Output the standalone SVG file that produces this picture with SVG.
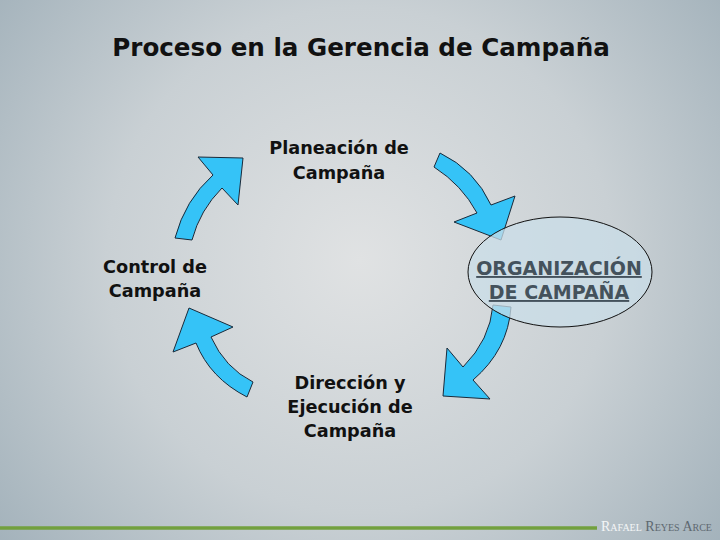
<svg xmlns="http://www.w3.org/2000/svg" width="720" height="540" viewBox="0 0 720 540">
<defs>
<radialGradient id="bg" cx="360" cy="260" r="460" gradientUnits="userSpaceOnUse">
<stop offset="0" stop-color="#e0e2e3"/>
<stop offset="0.55" stop-color="#c9d0d4"/>
<stop offset="1" stop-color="#a3b2bb"/>
</radialGradient>
<style>
.arrow{fill:#35c3f7;stroke:#1a2a3a;stroke-width:1;stroke-linejoin:miter}
.lbl{font-family:"DejaVu Sans",Verdana,sans-serif;font-weight:bold;font-size:17.7px;fill:#111;text-anchor:middle}
.org{font-family:"DejaVu Sans",Verdana,sans-serif;font-weight:bold;font-size:19px;fill:#44525c;text-anchor:middle;text-decoration:underline}
</style>
</defs>
<rect width="720" height="540" fill="url(#bg)"/>
<text x="361" y="56" font-family="'DejaVu Sans',Verdana,sans-serif" font-weight="bold" font-size="24.6" fill="#111" text-anchor="middle">Proceso en la Gerencia de Campaña</text>
<g id="connectors">
<path class="arrow" d="M175,238 Q185,200 213,175 L198,157 L243,158 L238,205 L222,188 Q200,210 192,240 Z"/>
<path class="arrow" d="M440,153 Q475,170 491,205 L515,196 L501,240 L454,222 L477,213 Q462,185 434,167 Z"/>
<path class="arrow" d="M511,307 Q508,350 473,380 L490,399 L443,396 L447,348 L463,367 Q490,340 493,305 Z"/>
<path class="arrow" d="M189,308 L233,327 L211,337 Q225,368 253,382 L247,397 Q210,378 196,343 L173,352 Z"/>
</g>
<g id="planeacion">
<text class="lbl" x="339" y="154">Planeación de</text>
<text class="lbl" x="339" y="179">Campaña</text>
</g>
<g id="organizacion">
<ellipse cx="560" cy="272" rx="92" ry="55" fill="#c9dde8" fill-opacity="0.75" stroke="#111" stroke-width="1"/>
<text class="org" x="559" y="275">ORGANIZACIÓN</text>
<text class="org" x="559" y="299">DE CAMPAÑA</text>
</g>
<g id="direccion">
<text class="lbl" x="350" y="389">Dirección y</text>
<text class="lbl" x="350" y="413">Ejecución de</text>
<text class="lbl" x="350" y="437">Campaña</text>
</g>
<g id="control">
<text class="lbl" x="155" y="273">Control de</text>
<text class="lbl" x="155" y="297">Campaña</text>
</g>
<line x1="0" y1="528" x2="597" y2="528" stroke="#72a03e" stroke-width="3.5"/>
<text x="601" y="531" font-family="'Liberation Serif',serif" font-size="14" font-variant="small-caps"><tspan fill="#f4f6f7">Rafael</tspan><tspan fill="#5e6870"> Reyes Arce</tspan></text>
</svg>
